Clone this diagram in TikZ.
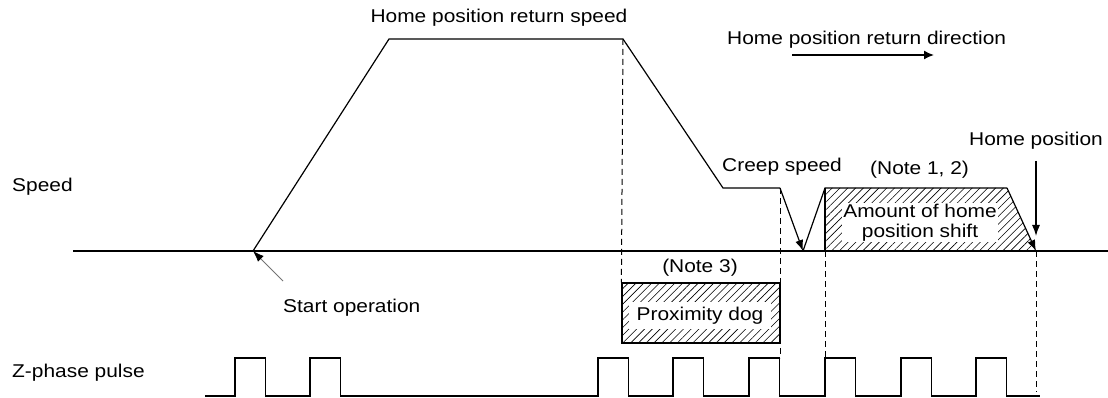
\documentclass[tikz,border=0pt]{standalone}
\usepackage{fontspec}
\setmainfont{Liberation Sans}[FakeStretch=1.13]
\usetikzlibrary{arrows.meta,patterns.meta}

\begin{document}
\begin{tikzpicture}[x=1pt, y=-1pt,
    every node/.style={font=\fontsize{18.5}{20}\selectfont, inner sep=0pt},
    lbl/.style={anchor=base},
    curve/.style={line width=1.2pt, line join=miter},
    axis/.style={line width=2.6pt},
    pulse/.style={line width=1.8pt},
    guide/.style={line width=1pt, dash pattern=on 6pt off 4pt},
    hatch/.style={pattern={Lines[angle=45, distance=5.5pt, line width=0.6pt]}},
    tip/.style={-{Latex[length=11pt, width=8pt]}}]
  \useasboundingbox (0,0) rectangle (1108,398);

  % profile corners
  \coordinate (st) at (253,251);
  \coordinate (a) at (389,39);
  \coordinate (b) at (623,39);
  \coordinate (c) at (723,188);
  \coordinate (d) at (780,188);
  \coordinate (v) at (803,251);
  \coordinate (c0) at (825,251);
  \coordinate (c1) at (825,188);
  \coordinate (c2) at (1007,188);
  \coordinate (hp) at (1036,251);
  \coordinate (ptop) at (0,358);

  % labels
  \node[lbl, anchor=base west] (speedlbl) at (12,192) {Speed};
  \node[lbl, anchor=base west] (zlbl) at (12,377) {Z-phase pulse};
  \node[lbl] (retspd) at (499,23) {Home position return speed};
  \node[lbl, anchor=base west] (dirlbl) at (727,45) {Home position return direction};
  \node[lbl, anchor=base west] (creep) at (722,172) {Creep speed};
  \node[lbl, anchor=base west] (note12) at (870,175) {(Note 1, 2)};
  \node[lbl] (hplbl) at (1036,146) {Home position};
  \node[lbl] (note3) at (700,272) {(Note 3)};
  \node[lbl, anchor=base west] (startlbl) at (283,312) {Start operation};

  % axis
  \coordinate (ax0) at (73,251);
  \coordinate (ax1) at (1108,251);
  \draw[axis] (ax0) -- (ax1);

  % home position shift
  \fill[hatch] (c0) -- (c1) -- (c2) -- (hp) -- cycle;
  \node[lbl, align=center, fill=white, inner sep=1pt] (shift) at (920,237) {Amount of home\\position shift};

  % proximity dog
  \node[draw, line width=1.2pt, hatch, minimum width=158pt, minimum height=60pt] (dog) at (701,313) {};
  \node[lbl, fill=white, inner xsep=8pt, inner ysep=5pt] (doglbl) at (700,320) {Proximity dog};

  % guides
  \draw[guide] (b) -- (dog.north west);
  \draw[guide] (d) -- (d |- ptop);
  \draw[guide] (c0) -- (c0 |- ptop);
  \draw[guide] (hp) -- (1036,392);

  % speed curve
  \draw[curve] (st) -- (a) -- (b) -- (c) -- (d);
  \draw[curve, tip] (d) -- (v);
  \draw[curve] (v) -- (c1) -- (c2);
  \draw[curve] (c0) -- (c1);
  \draw[curve, tip] (c2) -- (hp);

  % arrows to labels
  \coordinate (hptop) at (1036,161);
  \coordinate (hpend) at (1036,236);
  \draw[curve, tip] (hptop) -- (hpend);
  \coordinate (stfoot) at (283,281);
  \draw[line width=0.8pt, black!55, -{Latex[length=11pt, width=8pt, black]}] (stfoot) -- (st);
  \coordinate (dir0) at (792,55);
  \coordinate (dir1) at (934,55);
  \draw[line width=1.6pt, -{Latex[length=10pt, width=9pt]}] (dir0) -- (dir1);

  % Z-phase pulses
  \coordinate (zs) at (205,396);
  \coordinate (ze) at (1040,396);
  \draw[pulse] (zs)
    foreach \s in {235,310,598,673,749,825,901,976} { -- (\s,396) -- ++(0,-38) -- ++(30.5,0) -- ++(0,38) }
    -- (ze);
\end{tikzpicture}
\end{document}
